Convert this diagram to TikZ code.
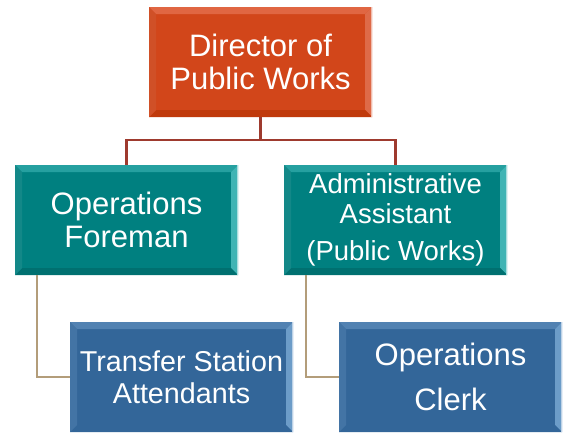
\documentclass[tikz,border=0pt]{standalone}
\usepackage{fontspec}
\setmainfont{Liberation Sans}
\usetikzlibrary{positioning}

\definecolor{dirred}{HTML}{D2461A}
\definecolor{dirtop}{HTML}{E06642}
\definecolor{dirside}{HTML}{DE6A48}
\definecolor{dirbot}{HTML}{C03A0C}
\definecolor{teal1}{HTML}{008080}
\definecolor{tealtop}{HTML}{25A0A0}
\definecolor{tealside}{HTML}{3FB4B4}
\definecolor{tealbot}{HTML}{007070}
\definecolor{blue1}{HTML}{336699}
\definecolor{bluetop}{HTML}{5282B2}
\definecolor{blueside}{HTML}{6C9CC8}
\definecolor{bluebot}{HTML}{2C5B8A}
\definecolor{linkred}{HTML}{9E3A2E}
\definecolor{linktan}{HTML}{B39D7A}

\tikzset{
  bevel/.style n args={3}{path picture={
    \fill[#1] (path picture bounding box.north west) -- (path picture bounding box.north east)
      -- ([shift={(-7pt,-7pt)}]path picture bounding box.north east)
      -- ([shift={(7pt,-7pt)}]path picture bounding box.north west) -- cycle;
    \fill[#2] (path picture bounding box.north east) -- (path picture bounding box.south east)
      -- ([shift={(-7pt,7pt)}]path picture bounding box.south east)
      -- ([shift={(-7pt,-7pt)}]path picture bounding box.north east) -- cycle;
    \fill[#3] (path picture bounding box.south west) -- (path picture bounding box.south east)
      -- ([shift={(-7pt,7pt)}]path picture bounding box.south east)
      -- ([shift={(7pt,7pt)}]path picture bounding box.south west) -- cycle;
    \fill[#1!50!#3] (path picture bounding box.north west) -- (path picture bounding box.south west)
      -- ([shift={(7pt,7pt)}]path picture bounding box.south west)
      -- ([shift={(7pt,-7pt)}]path picture bounding box.north west) -- cycle;
    \draw[#2!45!white, line width=2.5pt] (path picture bounding box.north east)
      -- (path picture bounding box.south east);
  }},
  box/.style={minimum width=223pt, minimum height=110pt, inner sep=0pt,
    align=center, text=white},
  dirbox/.style={box, fill=dirred, bevel={dirtop}{dirside}{dirbot},
    font=\fontsize{31}{33}\selectfont},
  midbox/.style={box, fill=teal1, bevel={tealtop}{tealside}{tealbot}},
  staffbox/.style={box, fill=blue1, bevel={bluetop}{blueside}{blue1}},
  toplink/.style={draw=linkred, line width=2.4pt},
  sublink/.style={draw=linktan, line width=2.4pt},
}

\begin{document}
\begin{tikzpicture}[x=1pt, y=-1pt]
\useasboundingbox (0,0) rectangle (564,432);

\coordinate (split) at (260.5,140);

% boxes
\node[dirbox] (dir) at (260.5,62) {Director of\\Public Works};
\node[midbox, font=\fontsize{31}{33}\selectfont] (fore) at (126.5,220) {Operations\\Foreman};
\node[midbox, font=\fontsize{27.5}{30}\selectfont] (admin) at (395.5,220)
  {Administrative\\Assistant\\[7pt](Public Works)};
\node[staffbox, font=\fontsize{28.7}{32}\selectfont] (trans) at (181.5,377)
  {Transfer Station\\Attendants};
\node[staffbox, font=\fontsize{31}{33}\selectfont] (clerk) at (450.5,377)
  {Operations\\[12pt]Clerk};

% lines from the director
\draw[toplink] (dir.south) -- (split);
\draw[toplink] (split) -| (fore.north);
\draw[toplink] (split) -| (admin.north);

% lines to the staff
\draw[sublink] ([xshift=22pt]fore.south west) |- (trans.west);
\draw[sublink] ([xshift=22pt]admin.south west) |- (clerk.west);
\end{tikzpicture}
\end{document}
